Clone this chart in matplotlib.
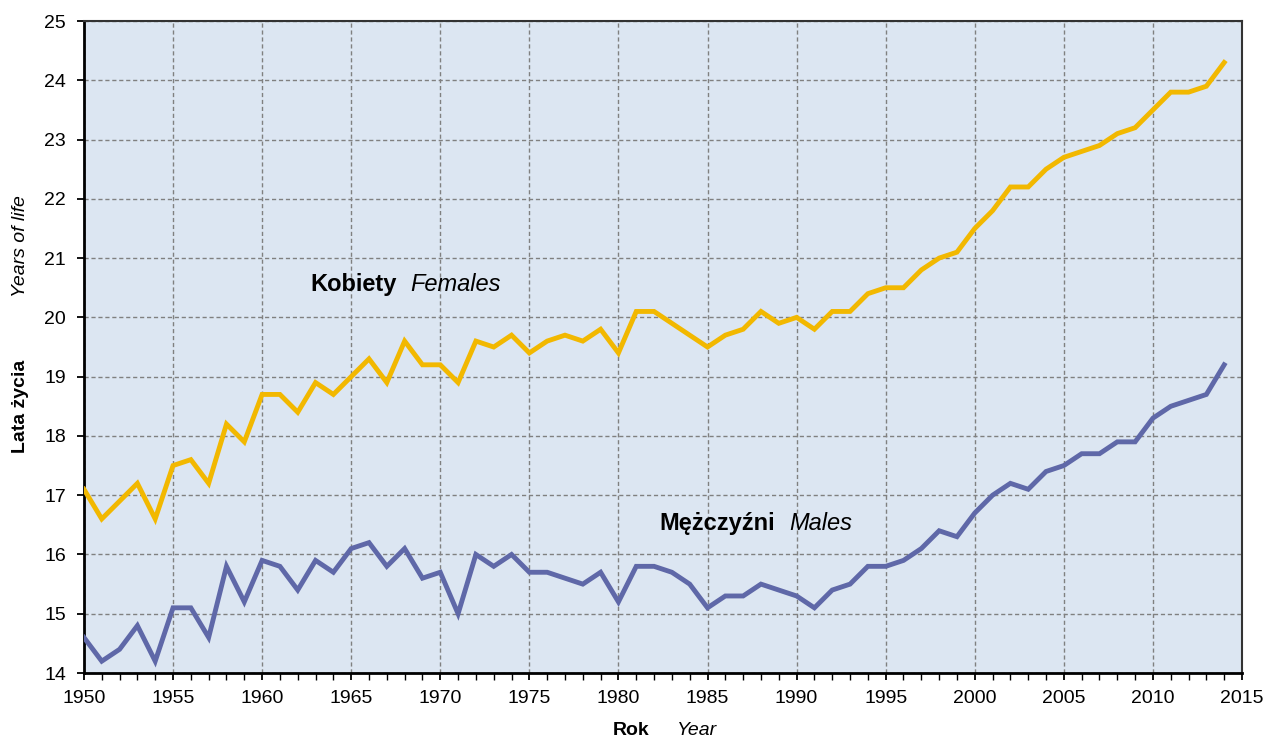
import matplotlib.pyplot as plt
import numpy as np
from matplotlib.ticker import MultipleLocator

plt.rcParams['font.family'] = ['Liberation Sans', 'DejaVu Sans']

years = list(range(1950, 2015))

females = [17.1, 16.6, 16.9, 17.2, 16.6, 17.5, 17.6, 17.2, 18.2, 17.9,
           18.7, 18.7, 18.4, 18.9, 18.7, 19.0, 19.3, 18.9, 19.6, 19.2,
           19.2, 18.9, 19.6, 19.5, 19.7, 19.4, 19.6, 19.7, 19.6, 19.8,
           19.4, 20.1, 20.1, 19.9, 19.7, 19.5, 19.7, 19.8, 20.1, 19.9,
           20.0, 19.8, 20.1, 20.1, 20.4, 20.5, 20.5, 20.8, 21.0, 21.1,
           21.5, 21.8, 22.2, 22.2, 22.5, 22.7, 22.8, 22.9, 23.1, 23.2,
           23.5, 23.8, 23.8, 23.9, 24.3]

males = [14.6, 14.2, 14.4, 14.8, 14.2, 15.1, 15.1, 14.6, 15.8, 15.2,
         15.9, 15.8, 15.4, 15.9, 15.7, 16.1, 16.2, 15.8, 16.1, 15.6,
         15.7, 15.0, 16.0, 15.8, 16.0, 15.7, 15.7, 15.6, 15.5, 15.7,
         15.2, 15.8, 15.8, 15.7, 15.5, 15.1, 15.3, 15.3, 15.5, 15.4,
         15.3, 15.1, 15.4, 15.5, 15.8, 15.8, 15.9, 16.1, 16.4, 16.3,
         16.7, 17.0, 17.2, 17.1, 17.4, 17.5, 17.7, 17.7, 17.9, 17.9,
         18.3, 18.5, 18.6, 18.7, 19.2]

fig = plt.figure(figsize=(12.68, 7.4), dpi=100)
ax = fig.add_axes([0.0662, 0.0905, 0.9133, 0.8811])
ax.set_facecolor("#DCE6F2")

ax.plot(years, females, color="#F2B800", lw=3.5, solid_joinstyle="miter", zorder=3)
ax.plot(years, males, color="#5F68A8", lw=3.5, solid_joinstyle="miter", zorder=3)

ax.set_xlim(1950, 2015)
ax.set_ylim(14, 25)
ax.xaxis.set_major_locator(MultipleLocator(5))
ax.xaxis.set_minor_locator(MultipleLocator(1))
ax.yaxis.set_major_locator(MultipleLocator(1))
ax.tick_params(axis="both", which="major", labelsize=14, direction="out", length=5, width=1.3)
ax.tick_params(axis="x", which="minor", direction="out", length=5, width=1)
ax.tick_params(axis="x", which="major", pad=7)
ax.tick_params(axis="y", which="major", pad=8)

ax.grid(True, which="major", color="#808080", linestyle=(0, (3, 2)), linewidth=1)
ax.set_axisbelow(True)

for s in ["left", "bottom"]:
    ax.spines[s].set_linewidth(2)
    ax.spines[s].set_color("black")
for s in ["top", "right"]:
    ax.spines[s].set_linewidth(1.5)
    ax.spines[s].set_color("#333333")

ax.text(1962.7, 20.55, "Kobiety", fontsize=17, fontweight="bold", va="center")
ax.text(1968.3, 20.55, "Females", fontsize=17, fontstyle="italic", va="center")
ax.text(1982.3, 16.53, "Mężczyźni", fontsize=17, fontweight="bold", va="center")
ax.text(1989.6, 16.53, "Males", fontsize=17, fontstyle="italic", va="center")

fig.text(0.512, 0.0135, "Rok", fontsize=14, fontweight="bold", ha="right", va="center")
fig.text(0.534, 0.0135, "Year", fontsize=14, fontstyle="italic", ha="left", va="center")
fig.text(0.016, 0.4514, "Lata życia", fontsize=14, fontweight="bold", rotation=90,
         ha="center", va="center")
fig.text(0.016, 0.667, "Years of life", fontsize=14, fontstyle="italic", rotation=90,
         ha="center", va="center")

fig.savefig("out.png", dpi=100)
